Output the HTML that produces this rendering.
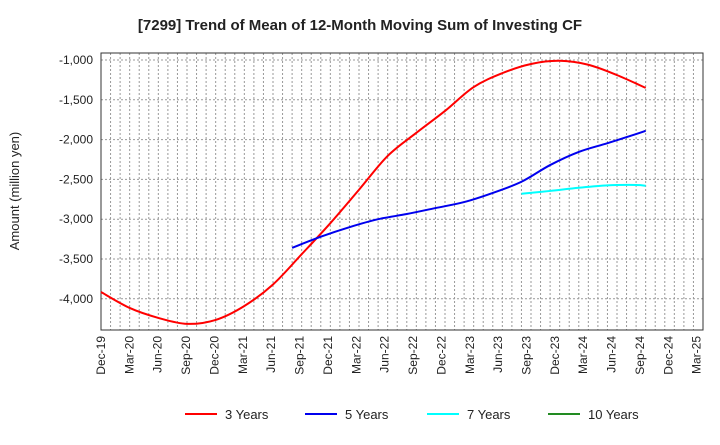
<!DOCTYPE html>
<html><head><meta charset="utf-8"><style>
body{margin:0;background:#fff;font-family:"Liberation Sans",sans-serif}
</style></head><body>
<svg id="c" width="720" height="440" font-family="Liberation Sans, sans-serif"></svg>
<script>
const monthLabels=["Dec-19","Mar-20","Jun-20","Sep-20","Dec-20","Mar-21","Jun-21","Sep-21","Dec-21","Mar-22","Jun-22","Sep-22","Dec-22","Mar-23","Jun-23","Sep-23","Dec-23","Mar-24","Jun-24","Sep-24","Dec-24","Mar-25"];
const yTicks=[-1000,-1500,-2000,-2500,-3000,-3500,-4000];
// month offsets from Dec-19
const s3Months=[0,3,6,9,12,15,18,21,24,27,30,33,36,39,42,45,48,51,54,57];
const s3Values=[-3915,-4115,-4240,-4315,-4265,-4090,-3820,-3440,-3050,-2630,-2205,-1915,-1640,-1340,-1165,-1050,-1010,-1060,-1190,-1350];
const s5Months=[20,23,26,29,32,35,38,41,44,47,50,53,56,57];
const s5Values=[-3360,-3220,-3100,-3000,-2935,-2860,-2785,-2670,-2530,-2320,-2155,-2045,-1930,-1890];
const s7Months=[44,47,50,53,56,57];
const s7Values=[-2680,-2645,-2605,-2575,-2570,-2580];
const s10Months=[];
const s10Values=[];
const L=101,R=703,T=53,B=330;
const xs=m=>L+m*(R-L)/63;
const ys=v=>60+(-1000-v)*39.8/500;
const svg=document.getElementById('c');
const NS='http://www.w3.org/2000/svg';
function mk(t,a,p){const e=document.createElementNS(NS,t);for(const k in a)e.setAttribute(k,a[k]);(p||svg).appendChild(e);return e;}
let e=mk('text',{x:360,y:30,'text-anchor':'middle','font-size':15,'font-weight':'bold',fill:'#222'});
e.textContent='[7299]  Trend of Mean of 12-Month Moving Sum of Investing CF';


for(let m=1;m<63;m++){
 e=mk('line',{x1:xs(m),x2:xs(m),y1:T,y2:B,stroke:'#999','stroke-dasharray':'2,2','stroke-width':1});
 
 
}
yTicks.forEach(v=>{
 e=mk('line',{x1:L,x2:R,y1:ys(v),y2:ys(v),stroke:'#999','stroke-dasharray':'2,2'});
 
 
 e=mk('text',{x:93,y:ys(v)+4,'text-anchor':'end','font-size':12,fill:'#222'});
 e.textContent=v.toLocaleString('en-US');
 
 
});
monthLabels.forEach((l,i)=>{
 const x=xs(i*3)+4-i*0.3;
 e=mk('text',{x:0,y:0,'text-anchor':'end','font-size':12,fill:'#222',transform:`translate(${x},336) rotate(-90)`});
 e.textContent=l;
 
 
});
e=mk('rect',{x:L,y:T,width:R-L,height:B-T,fill:'none',stroke:'#333','stroke-width':1});


e=mk('text',{x:0,y:0,'text-anchor':'middle','font-size':13,fill:'#222',transform:'translate(19,191) rotate(-90)'});
e.textContent='Amount (million yen)';


function path(ms,vs){
 const p=ms.map((m,i)=>[xs(m),ys(vs[i])]);
 if(!p.length)return '';
 let d=`M${p[0][0]},${p[0][1]}`;
 for(let i=0;i<p.length-1;i++){
  const p0=p[i-1]||p[i],p1=p[i],p2=p[i+1],p3=p[i+2]||p2;
  d+=` C${p1[0]+(p2[0]-p0[0])/6},${p1[1]+(p2[1]-p0[1])/6} ${p2[0]-(p3[0]-p1[0])/6},${p2[1]-(p3[1]-p1[1])/6} ${p2[0]},${p2[1]}`;
 }
 return d;
}
const series=[[s3Months,s3Values,'#ff0000','3 Years',185],[s5Months,s5Values,'#0000ee','5 Years',305],[s7Months,s7Values,'#00ffff','7 Years',427],[s10Months,s10Values,'#228b22','10 Years',548]];
series.forEach(([ms,vs,c,n,lx])=>{
 if(ms.length){
  e=mk('path',{d:path(ms,vs),fill:'none',stroke:c,'stroke-width':2});
  
  
 }
 const g=mk('g',{});
 
 
 mk('line',{x1:lx,x2:lx+32,y1:414,y2:414,stroke:c,'stroke-width':2},g);
 const t=mk('text',{x:lx+40,y:419,'font-size':13,fill:'#222'},g);
 t.textContent=n;
});
</script>
</body></html>
